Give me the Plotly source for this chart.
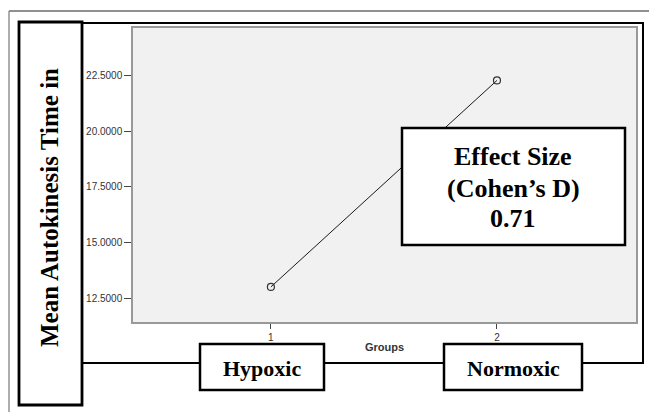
import plotly.graph_objects as go

# ---- data ----
groups = [1, 2]
group_names = ["Hypoxic", "Normoxic"]
mean_time = [13.0, 22.3]
y_ticks = [12.5, 15.0, 17.5, 20.0, 22.5]
effect_lines = ["Effect Size", "(Cohen’s D)", "0.71"]
y_label = "Mean Autokinesis Time in"
x_title = "Groups"

W, H = 649, 412


def px(x):
    return x / W


def py(y):
    return 1 - y / H


fig = go.Figure()
fig.add_trace(go.Scatter(
    x=groups, y=mean_time, mode="lines+markers",
    line=dict(color="#1a1a1a", width=1),
    marker=dict(symbol="circle-open", size=7, color="#333333", line=dict(width=1.2)),
    showlegend=False, hoverinfo="skip",
))

shapes = []
# outer page frame
shapes.append(dict(type="line", xref="paper", yref="paper", x0=px(9), x1=px(649), y0=py(11), y1=py(11),
                   line=dict(color="#222222", width=1.2)))
shapes.append(dict(type="line", xref="paper", yref="paper", x0=px(9), x1=px(9), y0=py(11), y1=py(412),
                   line=dict(color="#777777", width=1.2)))
# connector frame
frame_pts = [(82, 23), (643, 23), (643, 363), (582, 363)]
path = "M " + " L ".join(f"{px(a)},{py(b)}" for a, b in frame_pts)
shapes.append(dict(type="path", xref="paper", yref="paper", path=path, line=dict(color="black", width=2)))
shapes.append(dict(type="line", xref="paper", yref="paper", x0=px(324), x1=px(444), y0=py(363), y1=py(363),
                   line=dict(color="black", width=2)))
shapes.append(dict(type="line", xref="paper", yref="paper", x0=px(82), x1=px(200), y0=py(363), y1=py(363),
                   line=dict(color="black", width=2)))
# boxes
boxes = [(19, 22, 82, 405, 2.8), (402, 128, 625, 245, 2.5), (200, 344, 324, 390, 2.5), (444, 344, 582, 390, 2.5)]
for x0, y0, x1, y1, lw in boxes:
    shapes.append(dict(type="rect", xref="paper", yref="paper", x0=px(x0), x1=px(x1), y0=py(y1), y1=py(y0),
                       fillcolor="white", line=dict(color="black", width=lw), layer="above"))

annotations = []
serif = "Liberation Serif, Times New Roman, serif"
annotations.append(dict(xref="paper", yref="paper", x=px(49), y=py(208), text=f"<b>{y_label}</b>",
                        textangle=-90, showarrow=False, xanchor="center", yanchor="middle",
                        font=dict(family=serif, size=25, color="black")))
for i, (t, yy) in enumerate(zip(effect_lines, [157, 188, 218])):
    annotations.append(dict(xref="paper", yref="paper", x=px(513), y=py(yy), text=f"<b>{t}</b>",
                            showarrow=False, xanchor="center", yanchor="middle",
                            font=dict(family=serif, size=26, color="black")))
for name, cx in zip(group_names, [262, 513]):
    annotations.append(dict(xref="paper", yref="paper", x=px(cx), y=py(368), text=f"<b>{name}</b>",
                            showarrow=False, xanchor="center", yanchor="middle",
                            font=dict(family=serif, size=22, color="black")))

fig.update_layout(
    width=W, height=H,
    margin=dict(l=0, r=0, t=0, b=0),
    paper_bgcolor="white",
    plot_bgcolor="#f1f1f1",
    shapes=shapes,
    annotations=annotations,
    xaxis=dict(
        domain=[px(133), px(636)], range=[0.39, 2.615],
        tickmode="array", tickvals=groups, ticktext=[str(g) for g in groups],
        ticks="outside", ticklen=5, tickcolor="#444", tickwidth=1,
        showline=True, linecolor="#999999", linewidth=1.5, mirror=True,
        showgrid=False, zeroline=False, automargin=False,
        tickfont=dict(family="Liberation Sans, Arial, sans-serif", size=10, color="#333"),
        title=dict(text=f"<b>{x_title}</b>", standoff=2,
                   font=dict(family="Liberation Sans, Arial, sans-serif", size=11, color="#333")),
    ),
    yaxis=dict(
        domain=[py(322), py(28)], range=[11.42, 24.66],
        tickmode="array", tickvals=y_ticks, tickformat=".4f",
        ticks="outside", ticklen=7, tickcolor="#444", tickwidth=1,
        showline=True, linecolor="#999999", linewidth=1.5, mirror=True,
        showgrid=False, zeroline=False, automargin=False,
        tickfont=dict(family="Liberation Sans, Arial, sans-serif", size=10, color="#333"),
    ),
)

fig.write_html("out.html", config={"displayModeBar": False},
               post_script="document.body.style.margin='0';document.body.style.padding='0';document.body.style.overflow='hidden';")
